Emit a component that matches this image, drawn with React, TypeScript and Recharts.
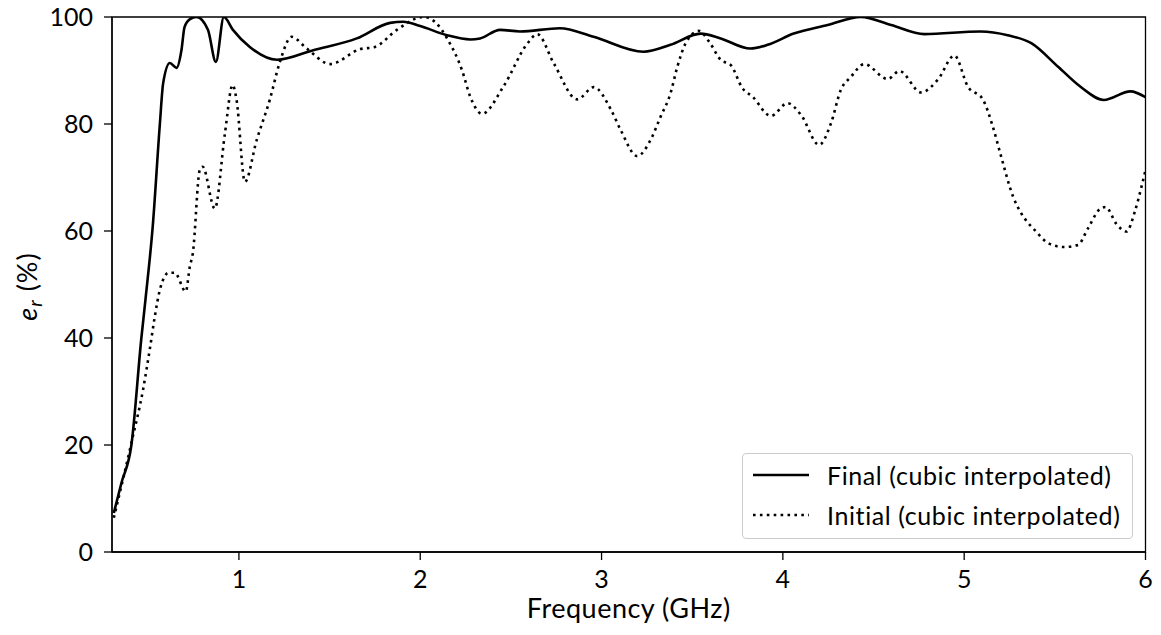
import React from 'react';
import { LineChart, Line, XAxis, YAxis, Legend, Label, ReferenceArea } from 'recharts';

// frequency in GHz, efficiency in %
const finalFreq = [
  0.31, 0.352, 0.407, 0.462, 0.484, 0.525, 0.564, 0.582, 0.619, 0.656, 0.683, 0.7, 0.73, 0.766,
  0.829, 0.873, 0.917, 0.967, 1.06, 1.21, 1.41, 1.65, 1.834, 1.906, 2.0, 2.147, 2.276, 2.33,
  2.44, 2.55, 2.77, 2.956, 3.232, 3.38, 3.546, 3.657, 3.82, 3.916, 4.06, 4.247, 4.43, 4.597,
  4.78, 5.09, 5.24, 5.37, 5.518, 5.64, 5.77, 5.917, 6.0,
];
const finalEff = [
  7.3, 12.9, 20, 40, 47, 61, 80, 87.6, 91.4, 90.5, 93.8, 98.1, 99.6, 100,
  97.6, 91.6, 100, 97.6, 94.4, 92, 93.8, 96, 98.9, 99.1, 98.3, 96.6, 95.8, 96,
  97.6, 97.3, 97.9, 96.3, 93.5, 94.8, 96.9, 96, 94.1, 94.8, 96.9, 98.5, 100, 98.5,
  96.8, 97.3, 96.6, 95.1, 90.7, 87, 84.5, 86.1, 85.0,
];

const initialFreq = [
  0.31, 0.407, 0.471, 0.508, 0.536, 0.564, 0.613, 0.646, 0.707, 0.729, 0.746, 0.784, 0.8, 0.867,
  0.923, 0.965, 0.987, 1.033, 1.098, 1.17, 1.226, 1.29, 1.374, 1.503, 1.669, 1.75, 1.871, 2.017,
  2.09, 2.148, 2.23, 2.276, 2.34, 2.459, 2.59, 2.645, 2.737, 2.866, 2.957, 3.05, 3.105, 3.197,
  3.27, 3.326, 3.38, 3.418, 3.464, 3.537, 3.593, 3.657, 3.713, 3.777, 3.833, 3.934, 4.026, 4.1,
  4.2, 4.265, 4.32, 4.375, 4.449, 4.578, 4.643, 4.762, 4.855, 4.946, 5.02, 5.103, 5.158, 5.204,
  5.27, 5.315, 5.388, 5.471, 5.55, 5.628, 5.683, 5.748, 5.78, 5.84, 5.895, 5.941, 5.978, 6.0,
];
const initialEff = [
  6.4, 20.4, 30.3, 37.8, 44, 49, 52.2, 52.2, 48.7, 53.3, 55.9, 71.4, 72, 64.2,
  78.3, 87.3, 84.5, 69.2, 77, 84.5, 91.6, 96.3, 94.1, 91.2, 94, 94.4, 97.6, 100,
  98.8, 96, 90.1, 85.1, 81.9, 87, 95, 96.8, 91.3, 84.6, 86.9, 82.8, 78.9, 74,
  77, 81.4, 85.7, 90.7, 95.1, 97.4, 95.4, 92, 91, 86.7, 85.1, 81.5, 83.9, 81.7,
  76.1, 80.1, 86.4, 88.8, 91.2, 88.4, 89.9, 85.9, 88.3, 92.8, 87, 84.6, 79.5, 73.9,
  66.4, 63.3, 60.2, 57.6, 57, 57.4, 60.5, 64.1, 64.5, 61.3, 59.9, 63.6, 68.3, 71.4,
];

const xTicks = [1, 2, 3, 4, 5, 6];
const yTicks = [0, 20, 40, 60, 80, 100];

const finalData = finalFreq.map((f, i) => ({ f, v: finalEff[i] }));
const initialData = initialFreq.map((f, i) => ({ f, v: initialEff[i] }));

const FONT = 'Lato, "DejaVu Sans", sans-serif';
const TICK_SIZE = 25;
const LABEL_SIZE = 27;
const DOTS = '2.6 4.3';

const renderLegend = (props: any) => {
  const items = (props.payload || []) as any[];
  return (
    <div
      style={{
        boxSizing: 'border-box',
        width: 391,
        height: 86,
        border: '1.5px solid #cccccc',
        borderRadius: 4,
        background: 'rgba(255,255,255,0.8)',
        position: 'relative',
        fontFamily: FONT,
        fontSize: TICK_SIZE,
        letterSpacing: 0.6,
        color: '#000',
      }}
    >
      {items.map((item, i) => {
        const dashed = item.payload?.strokeDasharray;
        return (
          <div
            key={item.value}
            style={{ position: 'absolute', left: 0, top: 1 + i * 40, height: 40, width: '100%' }}
          >
            <svg width={60} height={40} style={{ position: 'absolute', left: 10, top: 0 }}>
              <line
                x1={0}
                x2={56}
                y1={20}
                y2={20}
                stroke="#000"
                strokeWidth={2.6}
                strokeDasharray={dashed}
              />
            </svg>
            <span style={{ position: 'absolute', left: 84, top: 0, lineHeight: '40px', whiteSpace: 'nowrap' }}>
              {item.value}
            </span>
          </div>
        );
      })}
    </div>
  );
};

const YLabel = (props: any) => {
  const vb = props.viewBox || { x: 0, y: 0, width: 0, height: 0 };
  const x = vb.x + 29;
  const y = vb.y + vb.height / 2 + 2;
  return (
    <text
      x={x}
      y={y}
      transform={`rotate(-90, ${x}, ${y})`}
      textAnchor="middle"
      fontFamily={FONT}
      fontSize={LABEL_SIZE}
      letterSpacing={1}
      fill="#000"
    >
      <tspan fontStyle="italic">e</tspan>
      <tspan fontStyle="italic" fontSize={19} dy={5}>r</tspan>
      <tspan dy={-5}> (%)</tspan>
    </text>
  );
};

const XLabel = (props: any) => {
  const vb = props.viewBox || { x: 0, y: 0, width: 0, height: 0 };
  return (
    <text
      x={vb.x + vb.width / 2}
      y={vb.y + 66}
      textAnchor="middle"
      fontFamily={FONT}
      fontSize={LABEL_SIZE}
      letterSpacing={0.5}
      fill="#000"
    >
      Frequency (GHz)
    </text>
  );
};

const App: React.FC = () => {
  const tickStyle = { fill: '#000', fontSize: TICK_SIZE, fontFamily: FONT };
  return (
    <div style={{ width: 1150, height: 628, marginTop: -8 }}>
      <LineChart
        width={1150}
        height={628}
        margin={{ top: 17, right: 12.5, left: 0, bottom: 0 }}
        style={{ fontFamily: FONT }}
      >
        <XAxis
          type="number"
          dataKey="f"
          domain={[0.3, 6]}
          ticks={xTicks}
          interval={0}
          height={76}
          allowDataOverflow
          tick={tickStyle}
          tickSize={8}
          tickMargin={10}
          stroke="#000"
          strokeWidth={1.3}
        >
          <Label content={<XLabel />} />
        </XAxis>
        <YAxis
          type="number"
          domain={[0, 100]}
          ticks={yTicks}
          interval={0}
          width={104}
          allowDataOverflow
          tick={tickStyle}
          tickSize={8}
          tickMargin={11}
          stroke="#000"
          strokeWidth={1.3}
        >
          <Label content={<YLabel />} />
        </YAxis>
        <ReferenceArea x1={0.3} x2={6} y1={0} y2={100} fill="none" stroke="#000" strokeWidth={1.3} />
        <Line
          data={finalData}
          dataKey="v"
          name="Final (cubic interpolated)"
          type="monotone"
          stroke="#000"
          strokeWidth={2.6}
          dot={false}
          activeDot={false}
          isAnimationActive={false}
        />
        <Line
          data={initialData}
          dataKey="v"
          name="Initial (cubic interpolated)"
          type="monotone"
          stroke="#000"
          strokeWidth={2.6}
          strokeDasharray={DOTS}
          dot={false}
          activeDot={false}
          isAnimationActive={false}
        />
        <Legend
          layout="horizontal"
          verticalAlign="middle"
          align="center"
          content={renderLegend}
          wrapperStyle={{ left: 734, top: 453, width: 391, height: 86 }}
        />
      </LineChart>
    </div>
  );
};

export default App;
